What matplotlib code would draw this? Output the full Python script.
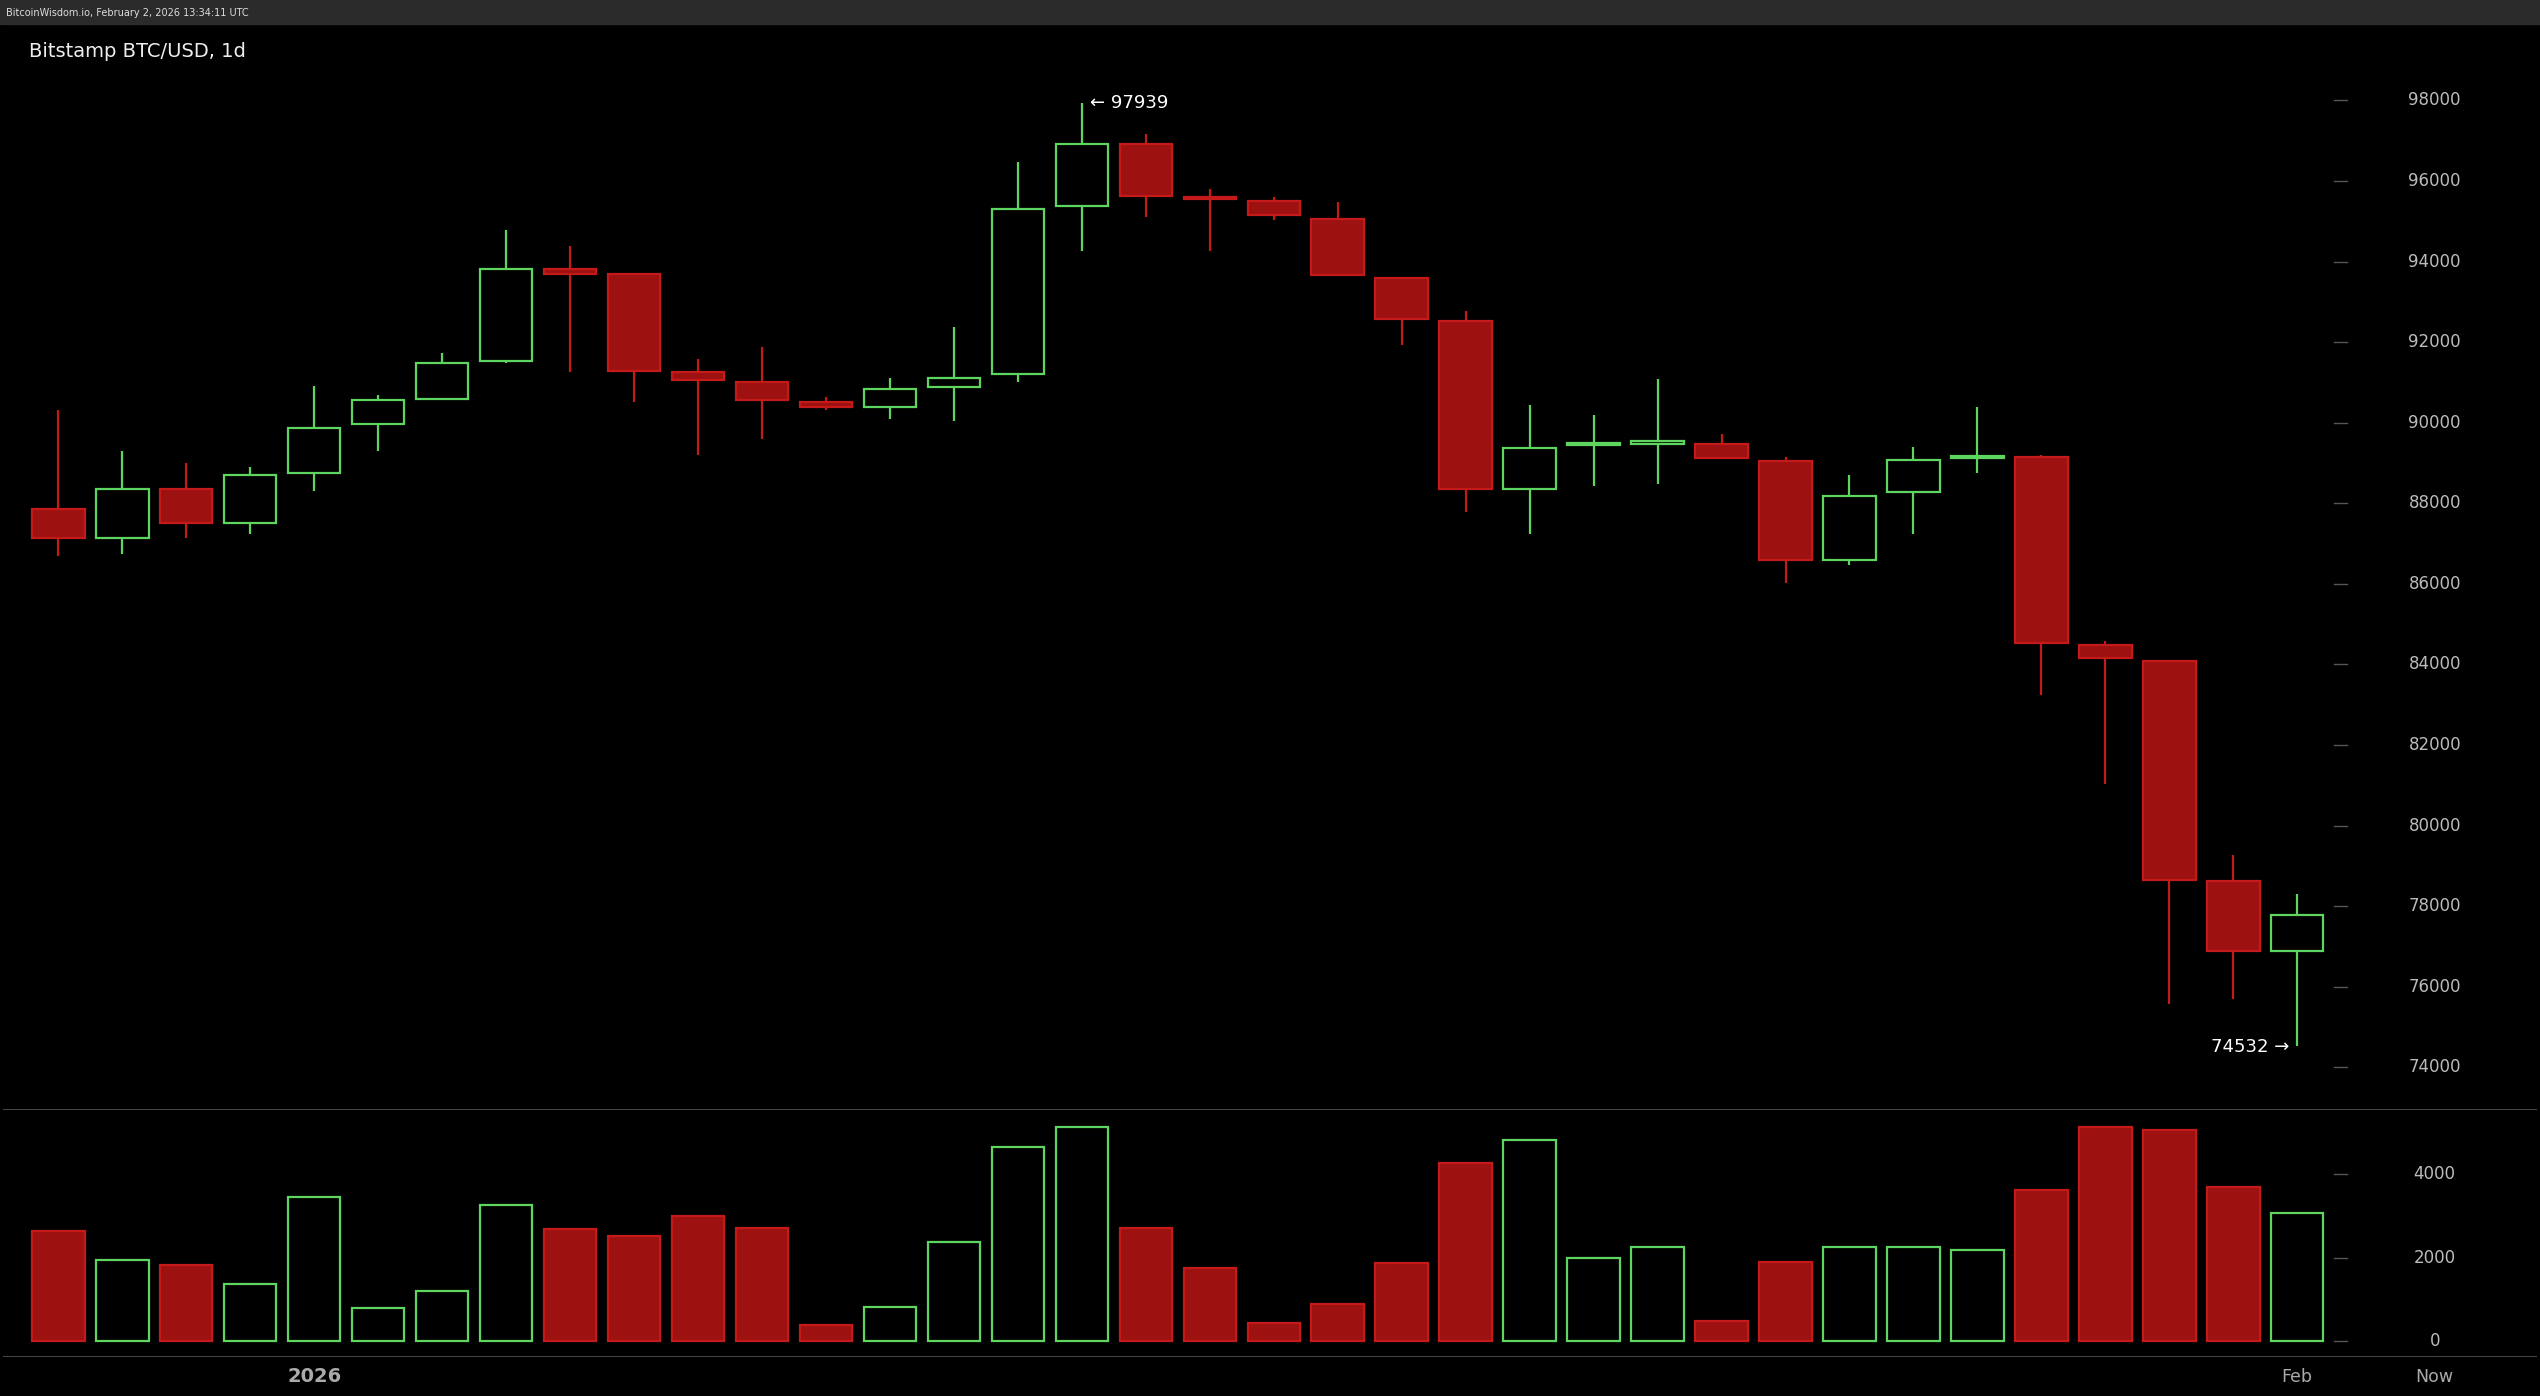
import matplotlib
matplotlib.use("Agg")
import matplotlib.pyplot as plt
from matplotlib.patches import Rectangle

opens  = [87870,87150,88350,87500,88750,89960,90600,91530,93820,93700,91250,91010,90520,90400,90880,91200,95390,96920,95590,95510,95060,93580,92530,88350,89440,89480,89480,89040,86580,88270,89120,89160,84490,84090,78620,76890]
closes = [87150,88350,87500,88700,89880,90560,91490,93820,93700,91290,91050,90560,90400,90840,91120,95300,96920,95630,95550,95150,93660,92570,88350,89360,89480,89520,89120,86580,88190,89080,89160,84530,84170,78660,76890,77780]
highs  = [90320,89300,89000,88900,90920,90680,91730,94780,94380,93700,91570,91890,90640,91120,92370,96470,97939,97160,95800,95590,95470,93580,92780,90440,90200,91090,89720,89160,88710,89400,90400,89200,84570,84090,79270,78300]
lows   = [86700,86750,87150,87230,88300,89300,90600,91490,91250,90520,89200,89600,90320,90080,90040,91010,94260,95100,94260,95020,93660,91930,87790,87230,88430,88470,89120,86020,86460,87230,88750,83250,81040,75570,75690,74532]
volumes= [2640,1940,1825,1360,3460,780,1200,3260,2680,2520,2990,2720,390,815,2370,4660,5130,2720,1750,430,890,1860,4270,4820,1980,2250,470,1900,2250,2250,2170,3610,5130,5050,3690,3070]
price_ticks = [74000,76000,78000,80000,82000,84000,86000,88000,90000,92000,94000,96000,98000]
vol_ticks = [0,2000,4000]

W, H = 1568.0, 862.0
fig = plt.figure(figsize=(25.4, 13.96), dpi=100, facecolor='#000000')
fig.patches.append(Rectangle((0, 1-15/H), 1, 15/H, transform=fig.transFigure, color='#2b2b2b', zorder=0))
fig.text(4/W, 1-8/H, "BitcoinWisdom.io, February 2, 2026 13:34:11 UTC", color='#dddddd', fontsize=7, va='center')

xl = ((2-36)/39.49, (1566-36)/39.49)
axp = fig.add_axes([2/W, 1-684/H, 1564/W, 639/H], facecolor='black')
axv = fig.add_axes([2/W, 1-838/H, 1564/W, 153/H], facecolor='black')
for ax in (axp, axv):
    ax.set_xlim(*xl)
    ax.set_xticks([]); ax.set_yticks([])
    for s in ax.spines.values(): s.set_visible(False)
axp.set_ylim(98000-622*40.2, 98000+17*40.2)
axv.set_ylim(-388, 5553)
axv.axhline(axv.get_ylim()[1], color='#555555', lw=1.2)
axv.axhline(axv.get_ylim()[0], color='#555555', lw=1.2)

G, R, RF = '#5ed55e', '#c41a1a', '#9e1111'
bw = 0.82
for i, (o, c, h, l, v) in enumerate(zip(opens, closes, highs, lows, volumes)):
    up = c >= o
    col = G if up else R
    top, bot = max(o, c), min(o, c)
    axp.vlines(i, l, h, color=col, lw=1.6, zorder=1)
    hgt = max(top-bot, 60)
    axp.add_patch(Rectangle((i-bw/2, bot), bw, hgt, facecolor='black' if up else RF,
                            edgecolor=col, lw=1.6, zorder=2))
    axv.add_patch(Rectangle((i-bw/2, 0), bw, v, facecolor='black' if up else RF,
                            edgecolor=col, lw=1.6, zorder=2))

lx = (1503-36)/39.49
tx = (1445-36)/39.49
for t in price_ticks:
    axp.text(lx, t, str(t), color='#bbbbbb', fontsize=12, ha='center', va='center')
    axp.plot([tx-0.1, tx+0.1], [t, t], color='#555555', lw=1)
for t in vol_ticks:
    axv.text(lx, t, str(t), color='#bbbbbb', fontsize=12, ha='center', va='center')
    axv.plot([tx-0.1, tx+0.1], [t, t], color='#555555', lw=1)

imax = highs.index(max(highs)); imin = lows.index(min(lows))
axp.text(imax+0.12, max(highs), "\u2190 " + str(max(highs)), color='white', fontsize=13, ha='left', va='center')
axp.text(imin-0.12, min(lows)-20, str(min(lows)) + " \u2192", color='white', fontsize=13, ha='right', va='center')

fig.text(18/W, 1-32/H, "Bitstamp BTC/USD, 1d", color='#eeeeee', fontsize=14, va='center')
for lab, px, fw in [("2026", 194, 'bold'), ("Feb", 1418, 'normal'), ("Now", 1503, 'normal')]:
    fig.text(px/W, 1-850/H, lab, color='#aaaaaa', fontsize=14 if fw == 'bold' else 12.5,
             fontweight=fw, ha='center', va='center')

fig.savefig("out.png", dpi=100, facecolor=fig.get_facecolor())
